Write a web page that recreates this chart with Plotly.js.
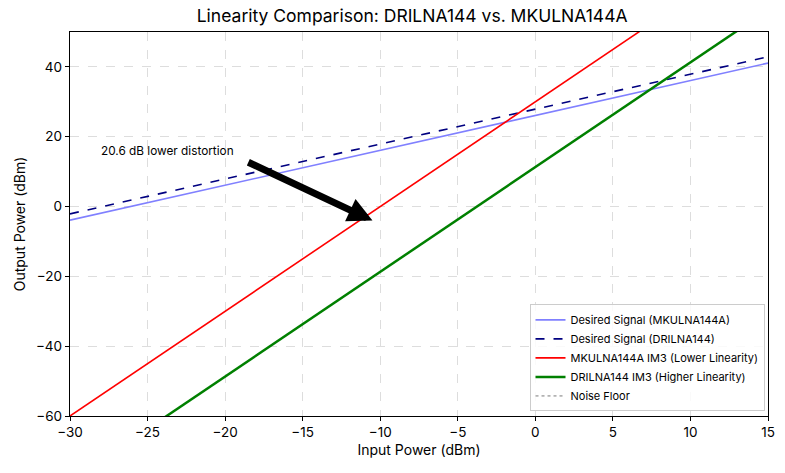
<!DOCTYPE html>
<html>
<head>
<meta charset="utf-8">
<script src="https://cdn.plot.ly/plotly-3.0.1.min.js"></script>
<style>
  html, body { margin: 0; padding: 0; background: #fff; }
  #plot { width: 785px; height: 473px; }
</style>
</head>
<body>
<div id="plot"></div>
<script>
// values (end points of each straight line)
let inputPower = [-30, 15];
let desiredMku = [-3.9, 41.1];
let desiredDri = [-2.1, 42.9];
let im3Mku = [-60, 75];
let im3Dri = [-78.7, 56.3];
let noiseFloor = [-90, -90];

let seriesNames = [
  'Desired Signal (MKULNA144A)',
  'Desired Signal (DRILNA144)',
  'MKULNA144A IM3 (Lower Linearity)',
  'DRILNA144 IM3 (Higher Linearity)',
  'Noise Floor'
];

let xTicks = [-30, -25, -20, -15, -10, -5, 0, 5, 10, 15];
let yTicks = [-60, -40, -20, 0, 20, 40];

let fontFamily = 'Inter, "Noto Sans", sans-serif';

let data = [
  {x: inputPower, y: desiredMku, name: seriesNames[0], mode: 'lines',
   line: {color: '#8080ff', width: 1.6}},
  {x: inputPower, y: desiredDri, name: seriesNames[1], mode: 'lines',
   line: {color: '#000080', width: 1.6, dash: 'dash'}},
  {x: inputPower, y: im3Mku, name: seriesNames[2], mode: 'lines',
   line: {color: '#ff0000', width: 1.6}},
  {x: inputPower, y: im3Dri, name: seriesNames[3], mode: 'lines',
   line: {color: '#008000', width: 2.5}},
  {x: inputPower, y: noiseFloor, name: seriesNames[4], mode: 'lines',
   line: {color: '#b3b3b3', width: 1.6, dash: 'dot'}}
];

let axisCommon = {
  showline: true, mirror: true, linecolor: '#000', linewidth: 1.2,
  ticks: 'outside', ticklen: 4, tickcolor: '#000',
  showgrid: true, gridcolor: '#dddddd', griddash: 'dash', gridwidth: 1,
  zeroline: false,
  tickfont: {size: 13.5, color: '#000', family: fontFamily}
};

let layout = {
  width: 785, height: 473,
  margin: {l: 70, r: 17, t: 32, b: 57},
  paper_bgcolor: '#fff', plot_bgcolor: '#fff',
  font: {family: fontFamily, color: '#000'},
  title: {text: 'Linearity Comparison: DRILNA144 vs. MKULNA144A',
          font: {size: 17.5, color: '#000'}, x: 0.525, xanchor: 'center', y: 0.967, yanchor: 'middle'},
  xaxis: Object.assign({}, axisCommon, {
    range: [-30, 15], tickvals: xTicks,
    ticktext: xTicks.map(v => v < 0 ? '\u2212' + Math.abs(v) : String(v)),
    title: {text: 'Input Power (dBm)', font: {size: 14}, standoff: 5}
  }),
  yaxis: Object.assign({}, axisCommon, {
    range: [-60, 50], tickvals: yTicks,
    ticktext: yTicks.map(v => v < 0 ? '\u2212' + Math.abs(v) : String(v)),
    title: {text: 'Output Power (dBm)', font: {size: 14}, standoff: 7}
  }),
  showlegend: true,
  legend: {
    x: 0.995, y: 0.012, xanchor: 'right', yanchor: 'bottom',
    bgcolor: 'rgba(255,255,255,0.85)', bordercolor: '#cccccc', borderwidth: 1,
    font: {size: 11, family: fontFamily},
    tracegroupgap: 0, itemwidth: 30
  },
  annotations: [
    {x: -28.1, y: 16, xref: 'x', yref: 'y', text: '20.6 dB lower distortion',
     showarrow: false, xanchor: 'left', yanchor: 'middle',
     font: {size: 11.8, color: '#000'}},
    {x: -10.5, y: -4, ax: -18.6, ay: 12.9, xref: 'x', yref: 'y', axref: 'x', ayref: 'y',
     text: '', showarrow: true, arrowhead: 2, arrowsize: 0.7, arrowwidth: 7, arrowcolor: '#000'}
  ]
};

Plotly.newPlot('plot', data, layout, {displayModeBar: false, staticPlot: true});
</script>
</body>
</html>
